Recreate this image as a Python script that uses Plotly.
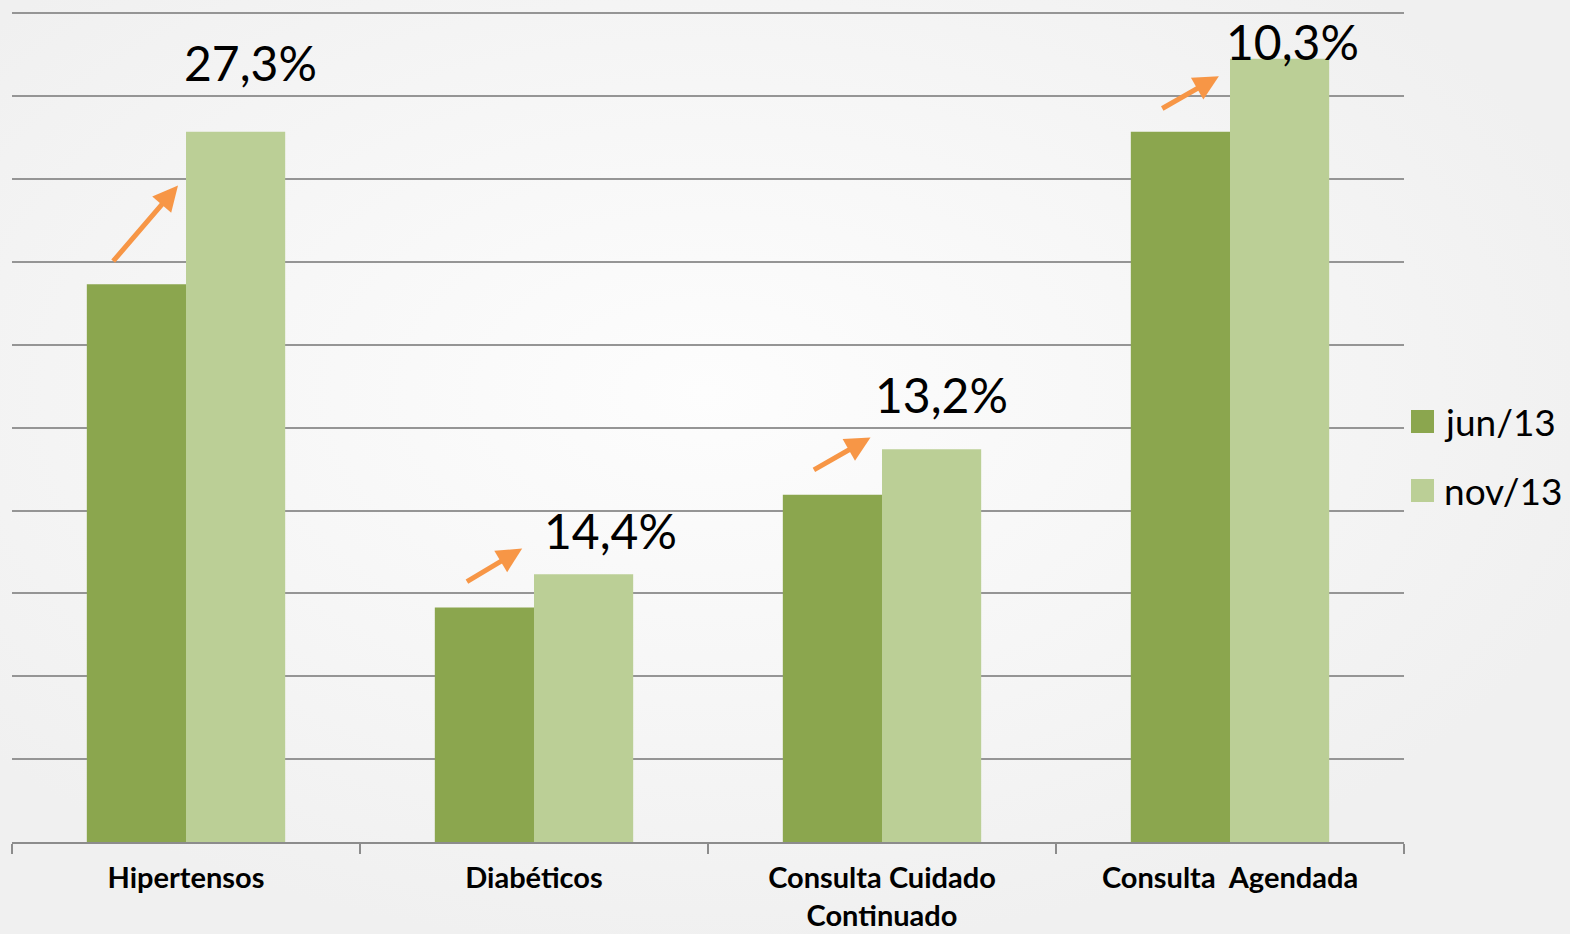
import plotly.graph_objects as go

# ---- data ----
categories = ["Hipertensos", "Diabéticos", "Consulta Cuidado<br>Continuado", "Consulta\u00a0 Agendada"]
series_names = ["jun/13", "nov/13"]
jun_values = [67.3, 28.3, 41.9, 85.7]
nov_values = [85.7, 32.3, 47.4, 94.5]
growth_labels = ["27,3%", "14,4%", "13,2%", "10,3%"]

# annotation placement (offset from category centre, y in axis units)
label_dx = [0.184, 0.221, 0.172, 0.180]
label_y = [94.0, 37.6, 54.0, 96.6]
arrow_tail_dx = [-0.213, -0.197, -0.200, -0.199]
arrow_head_dx = [-0.023, -0.034, -0.033, -0.032]
arrow_tail_y = [69.9, 31.3, 44.8, 88.4]
arrow_head_y = [79.2, 35.4, 48.8, 92.4]

colors = ["#8BA64E", "#BBCF96"]
W, H = 1570, 934
ml, mr, mt, mb = 12, 166, 12, 92

fig = go.Figure()
for name, vals, col in zip(series_names, [jun_values, nov_values], colors):
    fig.add_trace(go.Bar(x=categories, y=vals, name=name, marker=dict(color=col, line=dict(width=0)),
                         showlegend=False))

anns = []
for i, lab in enumerate(growth_labels):
    anns.append(dict(x=i + label_dx[i], y=label_y[i], xref="x", yref="y", text=lab, showarrow=False,
                     font=dict(family="Lato", size=48, color="#000000"), xanchor="center", yanchor="middle"))
    anns.append(dict(x=i + arrow_head_dx[i], y=arrow_head_y[i], ax=i + arrow_tail_dx[i], ay=arrow_tail_y[i],
                     xref="x", yref="y", axref="x", ayref="y", text="", showarrow=True,
                     arrowhead=2, arrowsize=1.0, arrowwidth=5, arrowcolor="#F79646", standoff=0))

# manual legend
pw = W - ml - mr
ph = H - mt - mb
def px_x(p): return (p - ml) / pw
def px_y(p): return (H - mb - p) / ph

shapes = []
leg_centers = [421.5, 490.5]
for name, col, cy in zip(series_names, colors, leg_centers):
    shapes.append(dict(type="rect", xref="paper", yref="paper", x0=px_x(1411), x1=px_x(1434),
                       y0=px_y(cy + 11.5), y1=px_y(cy - 11.5), fillcolor=col, line=dict(width=0)))
    anns.append(dict(x=px_x(1442), y=px_y(cy), xref="paper", yref="paper", text=name, showarrow=False,
                     xanchor="left", yanchor="middle", font=dict(family="Lato", size=37, color="#000000")))

fig.update_layout(
    width=W, height=H,
    margin=dict(l=ml, r=mr, t=mt, b=mb, autoexpand=False),
    paper_bgcolor="rgba(0,0,0,0)", plot_bgcolor="rgba(0,0,0,0)",
    barmode="group", bargap=0.43, bargroupgap=0,
    annotations=anns, shapes=shapes,
    xaxis=dict(type="category", showgrid=False, showline=True, linecolor="#8c8c8c", linewidth=2,
               ticks="outside", tickson="boundaries", ticklen=10, tickcolor="#8c8c8c", tickwidth=1.5,
               ticklabelstandoff=9, automargin=False,
               tickfont=dict(family="Lato", size=29, color="#000000"), range=[-0.5, 3.5]),
    yaxis=dict(range=[0, 100.15], tickvals=list(range(10, 101, 10)), showticklabels=False, showgrid=True,
               gridcolor="#959595", gridwidth=1.8, zeroline=False, ticks="", automargin=False),
    font=dict(family="Lato"),
)
fig.update_xaxes(tickprefix="<b>", ticksuffix="</b>")

post = ("document.body.style.margin='0';document.body.style.padding='0';"
        "document.documentElement.style.background='radial-gradient(ellipse 60% 60% at 45% 42%, #fdfdfd 0%, #f6f6f6 55%, #f0f0f0 100%)';"
        "document.body.style.background='transparent';")
fig.write_html("out.html", post_script=post, config={"displayModeBar": False})
